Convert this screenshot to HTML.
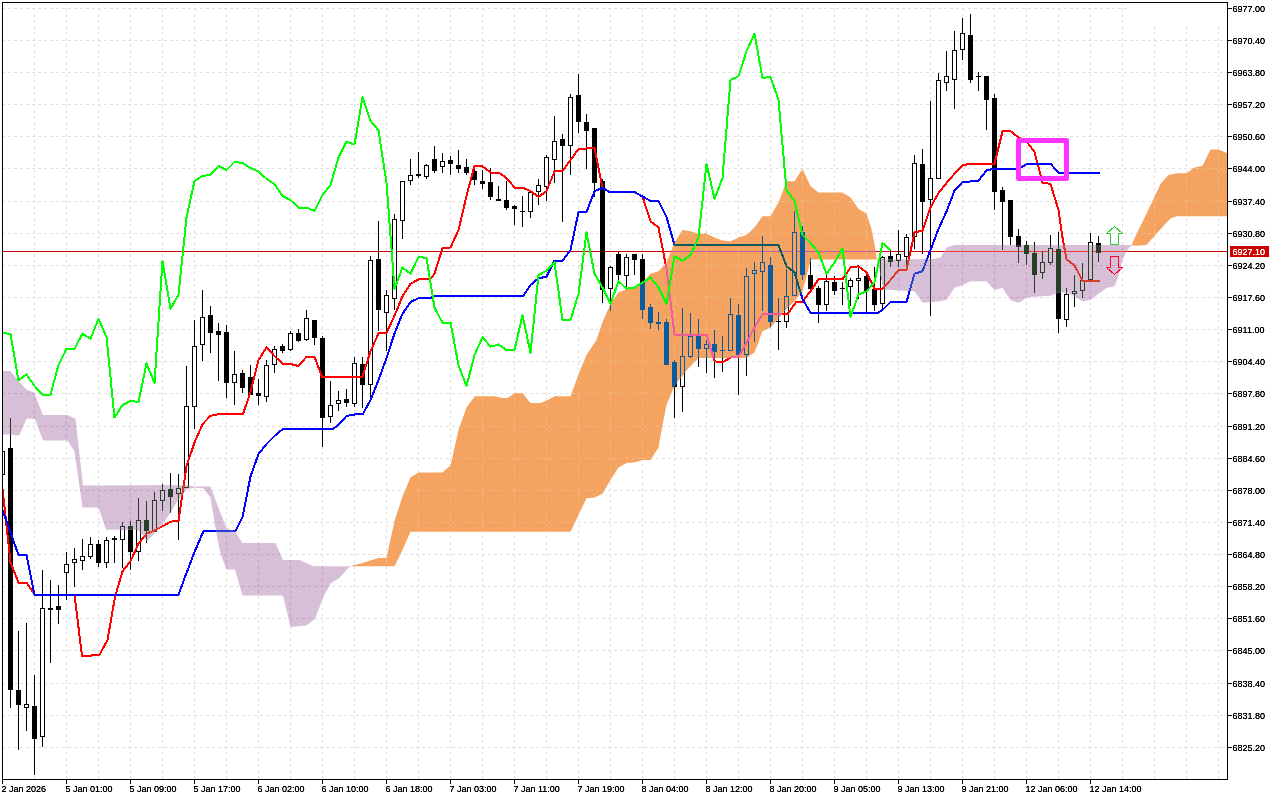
<!DOCTYPE html><html><head><meta charset="utf-8"><title>Chart</title><style>
html,body{margin:0;padding:0;background:#fff}svg{display:block}
text{font-family:"Liberation Sans",sans-serif;font-size:9px;fill:#000}
.k{fill:var(--k)}.w{fill:var(--w)}.g{stroke:var(--g);fill:none;stroke-dasharray:3 3}.r{stroke:var(--r);fill:none;stroke-width:2;stroke-linejoin:round}.b{stroke:var(--b);fill:none;stroke-width:2;stroke-linejoin:round}.p{fill:var(--p)}
.n{--k:#000;--w:#fff;--g:#e0e0e0;--r:#f00;--b:#00f;--p:#cc0000}
.o{--k:#0b5b9f;--w:#f4a460;--g:#ebbb7f;--r:#f45b9f;--b:#0b5b60;--p:#c75b9f}
.t{--k:#274027;--w:#d8bfd8;--g:#c7a0c7;--r:#d84027;--b:#2740d8;--p:#eb4027}
</style></head><body>
<svg width="1280" height="800" viewBox="0 0 1280 800" shape-rendering="crispEdges">
<defs>
<g id="c">
<path class="g" d="M34.5 2V779M66.5 2V779M98.5 2V779M130.5 2V779M162.5 2V779M194.5 2V779M226.5 2V779M258.5 2V779M290.5 2V779M322.5 2V779M354.5 2V779M386.5 2V779M418.5 2V779M450.5 2V779M482.5 2V779M514.5 2V779M546.5 2V779M578.5 2V779M610.5 2V779M642.5 2V779M674.5 2V779M706.5 2V779M738.5 2V779M770.5 2V779M802.5 2V779M834.5 2V779M866.5 2V779M898.5 2V779M930.5 2V779M962.5 2V779M994.5 2V779M1026.5 2V779M1058.5 2V779M1090.5 2V779M1122.5 2V779M1154.5 2V779M1186.5 2V779M1218.5 2V779M2 8.5H1227M2 40.5H1227M2 72.5H1227M2 104.5H1227M2 136.5H1227M2 168.5H1227M2 201.5H1227M2 233.5H1227M2 265.5H1227M2 297.5H1227M2 329.5H1227M2 361.5H1227M2 393.5H1227M2 426.5H1227M2 458.5H1227M2 490.5H1227M2 522.5H1227M2 554.5H1227M2 586.5H1227M2 618.5H1227M2 650.5H1227M2 683.5H1227M2 715.5H1227M2 747.5H1227"/>
<rect class="w" x="1128" y="3" width="99" height="22"/>
<rect class="p" x="3" y="251" width="1224" height="1"/>
<path class="k" d="M2 440h1V481h-1zM0 451h5V475h-5zM10 418h1V708h-1zM8 448h5V690h-5zM18 631h1V750h-1zM16 690h5V705h-5zM26 623h1V731h-1zM24 704h5V708h-5zM34 675h1V775h-1zM32 706h5V739h-5zM42 570h1V747h-1zM40 608h5V737h-5zM50 580h1V663h-1zM48 608h5V610h-5zM58 585h1V624h-1zM56 606h5V610h-5zM66 552h1V600h-1zM64 564h5V573h-5zM74 548h1V587h-1zM72 559h5V563h-5zM82 539h1V570h-1zM80 556h5V561h-5zM90 537h1V559h-1zM88 544h5V557h-5zM98 540h1V567h-1zM96 544h5V563h-5zM106 537h1V568h-1zM104 540h5V563h-5zM114 536h1V563h-1zM112 538h5V540h-5zM122 522h1V568h-1zM120 526h5V540h-5zM130 521h1V570h-1zM128 526h5V552h-5zM138 498h1V561h-1zM136 520h5V552h-5zM146 501h1V543h-1zM144 520h5V531h-5zM154 492h1V532h-1zM152 500h5V532h-5zM162 484h1V511h-1zM160 490h5V501h-5zM170 473h1V513h-1zM168 489h5V497h-5zM178 474h1V540h-1zM176 488h5V494h-5zM186 366h1V488h-1zM184 406h5V488h-5zM194 320h1V429h-1zM192 346h5V407h-5zM202 290h1V361h-1zM200 317h5V345h-5zM210 306h1V353h-1zM208 315h5V333h-5zM218 323h1V381h-1zM216 331h5V335h-5zM226 325h1V398h-1zM224 332h5V383h-5zM234 351h1V405h-1zM232 374h5V383h-5zM242 370h1V393h-1zM240 373h5V388h-5zM250 365h1V395h-1zM248 377h5V395h-5zM258 379h1V405h-1zM256 393h5V396h-5zM266 360h1V402h-1zM264 365h5V397h-5zM274 346h1V373h-1zM272 349h5V365h-5zM282 344h1V353h-1zM280 346h5V351h-5zM290 331h1V351h-1zM288 333h5V350h-5zM298 329h1V342h-1zM296 333h5V341h-5zM306 310h1V341h-1zM304 318h5V340h-5zM314 320h1V345h-1zM312 320h5V338h-5zM322 336h1V447h-1zM320 338h5V418h-5zM330 381h1V423h-1zM328 405h5V417h-5zM338 391h1V411h-1zM336 400h5V404h-5zM346 389h1V407h-1zM344 399h5V403h-5zM354 357h1V407h-1zM352 363h5V404h-5zM362 357h1V408h-1zM360 364h5V385h-5zM370 256h1V402h-1zM368 260h5V385h-5zM378 221h1V331h-1zM376 259h5V310h-5zM386 290h1V351h-1zM384 295h5V313h-5zM394 214h1V310h-1zM392 219h5V299h-5zM402 181h1V239h-1zM400 181h5V221h-5zM410 159h1V185h-1zM408 175h5V181h-5zM418 152h1V178h-1zM416 174h5V176h-5zM426 164h1V179h-1zM424 165h5V177h-5zM434 146h1V173h-1zM432 159h5V171h-5zM442 153h1V173h-1zM440 161h5V167h-5zM450 156h1V175h-1zM448 160h5V164h-5zM458 150h1V173h-1zM456 165h5V169h-5zM466 159h1V175h-1zM464 167h5V173h-5zM474 166h1V185h-1zM472 171h5V180h-5zM482 170h1V189h-1zM480 181h5V184h-5zM490 168h1V200h-1zM488 182h5V197h-5zM498 186h1V201h-1zM496 199h5V201h-5zM506 181h1V210h-1zM504 200h5V208h-5zM514 205h1V225h-1zM512 206h5V209h-5zM522 196h1V227h-1zM520 211h5v1h-5zM530 190h1V218h-1zM528 192h5V212h-5zM538 179h1V205h-1zM536 185h5V192h-5zM546 155h1V201h-1zM544 157h5V187h-5zM554 116h1V183h-1zM552 141h5V160h-5zM562 134h1V222h-1zM560 139h5V146h-5zM570 94h1V175h-1zM568 97h5V146h-5zM578 74h1V133h-1zM576 95h5V122h-5zM586 114h1V169h-1zM584 122h5V131h-5zM594 128h1V197h-1zM592 128h5V183h-5zM602 179h1V303h-1zM600 181h5V290h-5zM610 266h1V311h-1zM608 267h5V289h-5zM618 252h1V281h-1zM616 254h5V275h-5zM626 254h1V287h-1zM624 257h5V276h-5zM634 254h1V275h-1zM632 254h5V260h-5zM642 254h1V319h-1zM640 259h5V310h-5zM650 304h1V329h-1zM648 307h5V323h-5zM658 312h1V330h-1zM656 322h5V324h-5zM666 319h1V365h-1zM664 322h5V365h-5zM674 360h1V418h-1zM672 362h5V387h-5zM682 308h1V412h-1zM680 356h5V387h-5zM690 313h1V358h-1zM688 336h5V357h-5zM698 319h1V367h-1zM696 336h5V349h-5zM706 340h1V373h-1zM704 344h5V349h-5zM714 330h1V378h-1zM712 344h5V352h-5zM722 336h1V372h-1zM720 350h5v1h-5zM730 298h1V351h-1zM728 314h5V351h-5zM738 304h1V395h-1zM736 315h5V355h-5zM746 268h1V376h-1zM744 276h5V355h-5zM754 262h1V342h-1zM752 270h5V274h-5zM762 236h1V311h-1zM760 262h5V272h-5zM770 257h1V327h-1zM768 265h5V322h-5zM778 298h1V350h-1zM776 321h5v1h-5zM786 269h1V328h-1zM784 296h5V322h-5zM794 211h1V296h-1zM792 232h5V296h-5zM802 226h1V280h-1zM800 232h5V275h-5zM810 258h1V289h-1zM808 275h5V289h-5zM818 286h1V323h-1zM816 288h5V305h-5zM826 272h1V311h-1zM824 281h5V305h-5zM834 276h1V295h-1zM832 282h5V291h-5zM842 282h1V305h-1zM840 288h5v1h-5zM850 278h1V306h-1zM848 280h5V287h-5zM858 268h1V299h-1zM856 278h5V281h-5zM866 274h1V313h-1zM864 276h5V291h-5zM874 267h1V311h-1zM872 289h5V305h-5zM882 256h1V310h-1zM880 257h5V304h-5zM890 250h1V267h-1zM888 256h5V262h-5zM898 230h1V267h-1zM896 254h5V261h-5zM906 234h1V267h-1zM904 237h5V257h-5zM914 155h1V249h-1zM912 163h5V237h-5zM922 149h1V254h-1zM920 164h5V202h-5zM930 101h1V316h-1zM928 178h5V200h-5zM938 73h1V179h-1zM936 80h5V179h-5zM946 51h1V91h-1zM944 76h5V83h-5zM954 31h1V109h-1zM952 50h5V80h-5zM962 18h1V60h-1zM960 33h5V50h-5zM970 14h1V83h-1zM968 35h5V80h-5zM978 72h1V91h-1zM976 76h5v1h-5zM986 76h1V130h-1zM984 76h5V100h-5zM994 94h1V210h-1zM992 98h5V192h-5zM1002 187h1V250h-1zM1000 190h5V202h-5zM1010 200h1V245h-1zM1008 200h5V237h-5zM1018 229h1V263h-1zM1016 236h5V247h-5zM1026 241h1V265h-1zM1024 245h5V254h-5zM1034 242h1V293h-1zM1032 253h5V275h-5zM1042 251h1V279h-1zM1040 262h5V273h-5zM1050 235h1V265h-1zM1048 248h5V263h-5zM1058 232h1V333h-1zM1056 249h5V319h-5zM1066 288h1V327h-1zM1064 294h5V320h-5zM1074 275h1V307h-1zM1072 291h5V294h-5zM1082 263h1V298h-1zM1080 280h5V291h-5zM1090 233h1V280h-1zM1088 242h5V280h-5zM1098 236h1V262h-1zM1096 243h5V253h-5z"/>
<path class="w" d="M1 452h3V474h-3zM25 705h3V707h-3zM41 609h3V736h-3zM65 565h3V572h-3zM73 560h3V562h-3zM81 557h3V560h-3zM89 545h3V556h-3zM105 541h3V562h-3zM121 527h3V539h-3zM137 521h3V551h-3zM153 501h3V531h-3zM161 491h3V500h-3zM177 489h3V493h-3zM185 407h3V487h-3zM193 347h3V406h-3zM201 318h3V344h-3zM233 375h3V382h-3zM265 366h3V396h-3zM273 350h3V364h-3zM289 334h3V349h-3zM305 319h3V339h-3zM329 406h3V416h-3zM337 401h3V403h-3zM353 364h3V403h-3zM369 261h3V384h-3zM385 296h3V312h-3zM393 220h3V298h-3zM401 182h3V220h-3zM409 176h3V180h-3zM425 166h3V176h-3zM441 162h3V166h-3zM529 193h3V211h-3zM537 186h3V191h-3zM545 158h3V186h-3zM553 142h3V159h-3zM569 98h3V145h-3zM609 268h3V288h-3zM625 258h3V275h-3zM681 357h3V386h-3zM689 337h3V356h-3zM705 345h3V348h-3zM729 315h3V350h-3zM745 277h3V354h-3zM753 271h3V273h-3zM761 263h3V271h-3zM785 297h3V321h-3zM793 233h3V295h-3zM825 282h3V304h-3zM849 281h3V286h-3zM857 279h3V280h-3zM881 258h3V303h-3zM897 255h3V260h-3zM905 238h3V256h-3zM913 164h3V236h-3zM929 179h3V199h-3zM937 81h3V178h-3zM945 77h3V82h-3zM953 51h3V79h-3zM961 34h3V49h-3zM1041 263h3V272h-3zM1049 249h3V262h-3zM1065 295h3V319h-3zM1073 292h3V293h-3zM1081 281h3V290h-3zM1089 243h3V279h-3z"/>
<polyline class="r" points="2.5,488.75 10.5,562.5 18.5,582.5 26.5,582.5 34.5,594.5 74.5,594.5 82,656 91,656 91.5,654.75 99.5,654.75 107.5,640 115,597 122.5,571.25 130.5,561.25 138.5,543.75 146.5,533.75 154.5,530.5 162.5,526.25 170.5,521.75 178.5,520.5 186.5,466.25 194.5,442.5 202.5,424.25 210.5,415.75 219.5,414 243,414 250.5,392 258.5,360 266.5,347.5 274.5,356 282.5,363.75 290.5,364 298.5,366 306.5,356.75 314.5,356.75 322,376.75 362.5,376.75 370.5,351.25 378.5,333.25 386.5,333 394.5,315.75 402.5,296.25 410.5,283.75 418.5,279.5 426.5,278.75 430.5,278.75 434.5,273.75 442.5,248 450.5,247.5 458.5,230 466.5,196 474.5,165.75 482.5,166.25 490.5,172.5 498.5,172.5 506.5,178 514.5,187.5 522.5,187.5 530.5,191.25 538.5,196.75 546.5,191.25 554.5,171.25 562.5,171 570.5,160 578.5,149 586.5,148.5 594.5,148 602.5,187.5 609.5,192 634.5,192 642.5,196.5 650.5,221.25 658.5,227.5 666.5,268.75 674.5,334.5 706.5,334.5 714.5,361.25 722.5,362.5 730.5,357.5 738.5,357 746.5,342.5 754.5,327.5 762.5,314.25 787.5,314.25 796.5,301.5 802.5,301.5 810.5,291.25 818.5,279.25 842.5,279.25 850.5,267.5 858.5,266.25 866.5,272.5 874.5,288.75 882.5,288.75 890.5,280 898.5,270 906.5,270 914.5,232.5 922.5,230.5 930.5,207.5 938.5,193 946.5,183 954.5,173.75 962.5,165.5 970.5,163.5 994.5,163.5 1002.5,131.4 1010.5,131 1018.5,137.5 1026.5,141.5 1034.5,152 1042.5,182.5 1050.5,184 1058.5,210 1062.5,237.5 1066.5,259.25 1074.5,265.5 1082.5,280.5 1100,280.5"/>
<polyline class="b" points="2.5,510 18.5,555 26.5,555 34.5,594.5 178.5,594.5 186.5,573 194.5,552 203.5,531 235.5,531 242.5,517 250.5,476.5 258.5,454 266.5,444 274.5,436 282.5,429.25 332.5,429.25 338.5,425 346.5,416 354.5,414.5 363,413.75 370.5,400 378.5,380 386.5,358 394.5,333.5 402.5,313.75 410.5,302 418.5,298.25 430.5,298 434.5,295.75 523.5,295.75 530.5,285 538.5,278.25 546.5,276.75 554.5,260.75 562.5,260.75 570.5,250 578.5,212 586.5,212 594.5,191.25 602.5,187.75 609.5,192 634.5,192 642.5,196.5 650.5,201 658.5,201 666.5,217 674.5,245 778.5,245 786.5,266.25 794.5,272.5 802.5,298.75 810.5,313 877.5,313 882.5,310 890.5,302 906.5,302 914.5,273.75 922.5,271.25 930.5,250 938.5,229 946.5,211.5 954.5,190.6 962.5,182 970.5,181.5 978.5,180.6 986.5,170.5 994.5,168.5 1018.5,168.5 1021.5,167.2 1027.5,163.5 1050.5,163.5 1058.5,173 1099.5,173"/>
</g>
<clipPath id="cp0"><polygon points="2.5,371 10.5,371 18.5,381 26.5,389.5 34.5,393 36.5,398.75 43,415 67.5,415 75.5,418.75 83,485.5 186.5,485 194.5,486.5 210.5,486.5 218.5,508 226.5,528 235.5,532 242.5,543 275.5,543 283,560 299.5,560 313.5,566.25 349.9,566.25 349.9,566.25 339.25,578 331.1,583 324.25,595 314.9,618.75 306.5,625.6 290.5,627 283,595.6 242.5,595.6 234.9,569.6 226.5,569.6 220.5,553.75 216.5,534 210.5,497.5 203.5,488.5 194.5,487.5 186.5,489.5 178.5,499.5 170.5,512.5 162.5,524.5 154.5,533.5 147,541 138.5,529.75 106.1,529.75 98.5,507.5 82.5,507.5 80.5,493.75 74.5,451.25 67.5,440.6 43,440.6 34.9,418.75 26.5,418.75 19.25,435.6 15.5,435.6 10.5,434.5 2.5,434.5"/></clipPath>
<clipPath id="cp1"><polygon points="349.9,566.25 354.5,565 362.5,563 370.5,560.5 378.5,558 386.5,558 394.5,521.25 402.5,496.25 410.5,477.5 418.5,472.5 442.5,472.5 450.5,465.5 458.5,430 466.5,407.5 474.9,396.25 494.5,396.25 502.5,398 507.5,398 514.9,393 522.5,393 530.5,403 540.5,403 546.75,400.6 554.9,396.25 570.5,396.25 579.25,372.5 586.5,355 596.5,340 602.5,322 611.1,302.5 618.5,292.5 626.5,289.25 634.5,288 642.5,282.5 650.5,273.75 658.5,271.25 666.5,262.5 674.5,242.5 682.5,230 690.5,231.25 698.5,233.75 706.5,233.75 714.5,237.5 722.5,240.5 730.5,241.25 738.5,237.5 746.5,235 754.5,227.5 762.5,216.25 770.5,216.25 778.5,202.5 786.5,181.25 794.5,181.25 802.5,168.75 810.5,186.25 818.5,192.5 842.5,192.5 850.5,197.5 858.5,208.75 866.5,213.75 871.1,227.5 874.9,246.25 876.75,259.5 876.75,259.5 811,259.5 802.5,291 794.5,301.5 786.5,308.5 778.5,318.5 770.5,327.5 762.5,331.25 754.5,352.5 746.5,358 698.5,358 690.5,366.25 682.5,375 674.5,386 666.5,405 662.5,425 658.5,447.5 650.5,460 642.5,460 634.5,462.5 626.5,463 618.5,467.5 610.5,480 602.5,493.75 594.5,497.5 586.5,498.25 578.5,515 570.5,531.75 410.5,531.75 402.5,550 394.5,566.25 349.9,566.25"/></clipPath>
<clipPath id="cp2"><polygon points="876.75,259.5 933,259 940.5,257.5 946.5,247.5 954.5,245 1131.5,245 1131.5,245 1126.5,251.25 1122.5,260 1118,277.5 1114.5,286.25 1106.5,288 1098.5,293.75 1090.5,300 1082.5,301.25 1074.5,296.25 1066.5,292.5 1058.5,292.5 1050.5,295.75 1042.5,296.25 1034.5,296.75 1026.5,297.5 1018.5,303 1010.5,300 1002.5,288 994.5,290 986.5,281.25 970.5,281.25 960.5,286 954.5,287.5 946.5,300 938.5,301.25 930.5,302.5 922.5,302.5 914.5,291.25 898.5,290.5 884.5,289.4 882.5,283 876.75,259.5"/></clipPath>
<clipPath id="cp3"><polygon points="1131.5,245 1138.5,230 1146.5,213.5 1153,200 1160.5,183.75 1168.5,175 1176.5,173.25 1186.5,173.25 1194.5,167.5 1202.5,165.75 1210.5,149.5 1218.5,149.5 1227.5,153.25 1227.5,216.25 1176.5,216.25 1170.5,218.5 1162.5,227 1154.5,236 1146.5,245 1138.5,245.7 1131.5,245.6"/></clipPath>
<filter id="th" x="0" y="0" width="1280" height="800" filterUnits="userSpaceOnUse" color-interpolation-filters="sRGB"><feComponentTransfer><feFuncA type="table" tableValues="0 0.55 1 1"/></feComponentTransfer></filter>
<clipPath id="ch"><rect x="3" y="3" width="1224" height="776"/></clipPath>
</defs>
<rect width="1280" height="800" fill="#fff"/>
<g clip-path="url(#ch)">
<use href="#c" class="n"/>
<g clip-path="url(#cp0)"><rect x="0" y="0" width="1280" height="800" fill="#d8bfd8"/><use href="#c" class="t"/></g>
<g clip-path="url(#cp1)"><rect x="0" y="0" width="1280" height="800" fill="#f4a460"/><use href="#c" class="o"/></g>
<g clip-path="url(#cp2)"><rect x="0" y="0" width="1280" height="800" fill="#d8bfd8"/><use href="#c" class="t"/></g>
<g clip-path="url(#cp3)"><rect x="0" y="0" width="1280" height="800" fill="#f4a460"/><use href="#c" class="o"/></g>
<polyline points="2.5,333 10.5,334 18.5,380.5 26.5,374.5 34.5,386 42.5,394.5 50.5,394.5 58.5,365 66.5,348.75 74.5,348.75 82.5,333.75 90.5,338.75 98.5,318.75 106.5,337 114.5,417.5 122.5,405 130.5,401 138.5,402 146.5,363.5 154.5,383 162.5,260.75 170.5,309 178.5,294.5 186.5,217.5 194.5,181 202.5,176 210.5,175 218.5,166 226.5,170 234.5,162 242.5,163 250.5,168 258.5,171.5 266.5,179 274.5,184 282.5,196 290.5,200 298.5,207.5 306.5,207.5 314.5,211 322.5,195 330.5,185 338.5,157.5 346.5,141.75 354.5,144.5 362.5,97.5 370.5,120.75 378.5,130.5 386.5,182.5 394.5,288.75 402.5,267.5 410.5,273.75 418.5,257 426.5,258 434.5,307.5 442.5,322.5 450.5,322.5 458.5,365 466.5,386.25 474.5,355 482.5,337 490.5,346.75 498.5,344.5 506.5,350 514.5,350 522.5,315 530.5,353 538.5,275 546.5,270.75 554.5,262.5 562.5,320 570.5,320 578.5,293.75 586.5,232.5 594.5,273.75 602.5,287.5 610.5,303.75 618.5,281.25 626.5,288.75 634.5,287.5 642.5,282.5 650.5,277.5 658.5,287.5 666.5,303.75 674.5,256.25 682.5,260.75 690.5,255 698.5,237.5 706.5,163.75 714.5,198.75 722.5,178 730.5,80 738.5,76.25 746.5,51.25 754.5,33.75 762.5,78 770.5,77 778.5,100 786.5,190 794.5,201 802.5,235 810.5,243 818.5,252.5 826.5,273.75 834.5,262.5 842.5,248.75 850.5,317 858.5,294.5 866.5,291.25 874.5,282.5 882.5,243 890.5,250" fill="none" stroke="#0f0" stroke-width="2" stroke-linejoin="round"/>
<rect x="1018.5" y="140.5" width="48" height="38" fill="none" stroke="#ff33ff" stroke-width="5" stroke-linejoin="round" shape-rendering="auto"/>
<path d="M1114.5 226.5L1106.5 233.5H1110.5V244.5H1118.5V233.5H1122.5Z" fill="none" stroke="#3c3" stroke-width="1"/>
<path d="M1114.5 274.5L1106.5 267.5H1110.5V256.5H1118.5V267.5H1122.5Z" fill="none" stroke="#f03" stroke-width="1"/>
</g>
<path d="M2 2H1228V780H2Z" fill="none"/>
<rect x="2" y="2" width="1226" height="1" fill="#000"/><rect x="2" y="2" width="1" height="778" fill="#000"/><rect x="1227" y="2" width="1" height="778" fill="#000"/><rect x="2" y="779" width="1226" height="1" fill="#000"/>
<rect x="1228" y="8" width="4" height="1" fill="#000"/>
<rect x="1228" y="40" width="4" height="1" fill="#000"/>
<rect x="1228" y="72" width="4" height="1" fill="#000"/>
<rect x="1228" y="104" width="4" height="1" fill="#000"/>
<rect x="1228" y="136" width="4" height="1" fill="#000"/>
<rect x="1228" y="168" width="4" height="1" fill="#000"/>
<rect x="1228" y="201" width="4" height="1" fill="#000"/>
<rect x="1228" y="233" width="4" height="1" fill="#000"/>
<rect x="1228" y="265" width="4" height="1" fill="#000"/>
<rect x="1228" y="297" width="4" height="1" fill="#000"/>
<rect x="1228" y="329" width="4" height="1" fill="#000"/>
<rect x="1228" y="361" width="4" height="1" fill="#000"/>
<rect x="1228" y="393" width="4" height="1" fill="#000"/>
<rect x="1228" y="426" width="4" height="1" fill="#000"/>
<rect x="1228" y="458" width="4" height="1" fill="#000"/>
<rect x="1228" y="490" width="4" height="1" fill="#000"/>
<rect x="1228" y="522" width="4" height="1" fill="#000"/>
<rect x="1228" y="554" width="4" height="1" fill="#000"/>
<rect x="1228" y="586" width="4" height="1" fill="#000"/>
<rect x="1228" y="618" width="4" height="1" fill="#000"/>
<rect x="1228" y="650" width="4" height="1" fill="#000"/>
<rect x="1228" y="683" width="4" height="1" fill="#000"/>
<rect x="1228" y="715" width="4" height="1" fill="#000"/>
<rect x="1228" y="747" width="4" height="1" fill="#000"/>
<rect x="1230" y="246" width="39" height="11" fill="#cc0000"/>
<rect x="2" y="780" width="1" height="4" fill="#000"/>
<rect x="66" y="780" width="1" height="4" fill="#000"/>
<rect x="130" y="780" width="1" height="4" fill="#000"/>
<rect x="194" y="780" width="1" height="4" fill="#000"/>
<rect x="258" y="780" width="1" height="4" fill="#000"/>
<rect x="322" y="780" width="1" height="4" fill="#000"/>
<rect x="386" y="780" width="1" height="4" fill="#000"/>
<rect x="450" y="780" width="1" height="4" fill="#000"/>
<rect x="514" y="780" width="1" height="4" fill="#000"/>
<rect x="578" y="780" width="1" height="4" fill="#000"/>
<rect x="642" y="780" width="1" height="4" fill="#000"/>
<rect x="706" y="780" width="1" height="4" fill="#000"/>
<rect x="770" y="780" width="1" height="4" fill="#000"/>
<rect x="834" y="780" width="1" height="4" fill="#000"/>
<rect x="898" y="780" width="1" height="4" fill="#000"/>
<rect x="962" y="780" width="1" height="4" fill="#000"/>
<rect x="1026" y="780" width="1" height="4" fill="#000"/>
<rect x="1090" y="780" width="1" height="4" fill="#000"/>
<g filter="url(#th)">
<text x="1232.6" y="11.6">6977.00</text>
<text x="1232.6" y="43.6">6970.40</text>
<text x="1232.6" y="75.6">6963.80</text>
<text x="1232.6" y="107.6">6957.20</text>
<text x="1232.6" y="139.6">6950.60</text>
<text x="1232.6" y="171.6">6944.00</text>
<text x="1232.6" y="204.6">6937.40</text>
<text x="1232.6" y="236.6">6930.80</text>
<text x="1232.6" y="268.6">6924.20</text>
<text x="1232.6" y="300.6">6917.60</text>
<text x="1232.6" y="332.6">6911.00</text>
<text x="1232.6" y="364.6">6904.40</text>
<text x="1232.6" y="396.6">6897.80</text>
<text x="1232.6" y="429.6">6891.20</text>
<text x="1232.6" y="461.6">6884.60</text>
<text x="1232.6" y="493.6">6878.00</text>
<text x="1232.6" y="525.6">6871.40</text>
<text x="1232.6" y="557.6">6864.80</text>
<text x="1232.6" y="589.6">6858.20</text>
<text x="1232.6" y="621.6">6851.60</text>
<text x="1232.6" y="653.6">6845.00</text>
<text x="1232.6" y="686.6">6838.40</text>
<text x="1232.6" y="718.6">6831.80</text>
<text x="1232.6" y="750.6">6825.20</text>
<text x="1232.6" y="254.8" style="fill:#fff">6927.10</text>
<text x="1.5" y="792">2 Jan 2026</text>
<text x="65.5" y="792">5 Jan 01:00</text>
<text x="129.5" y="792">5 Jan 09:00</text>
<text x="193.5" y="792">5 Jan 17:00</text>
<text x="257.5" y="792">6 Jan 02:00</text>
<text x="321.5" y="792">6 Jan 10:00</text>
<text x="385.5" y="792">6 Jan 18:00</text>
<text x="449.5" y="792">7 Jan 03:00</text>
<text x="513.5" y="792">7 Jan 11:00</text>
<text x="577.5" y="792">7 Jan 19:00</text>
<text x="641.5" y="792">8 Jan 04:00</text>
<text x="705.5" y="792">8 Jan 12:00</text>
<text x="769.5" y="792">8 Jan 20:00</text>
<text x="833.5" y="792">9 Jan 05:00</text>
<text x="897.5" y="792">9 Jan 13:00</text>
<text x="961.5" y="792">9 Jan 21:00</text>
<text x="1025.5" y="792">12 Jan 06:00</text>
<text x="1089.5" y="792">12 Jan 14:00</text>
</g>
</svg></body></html>
